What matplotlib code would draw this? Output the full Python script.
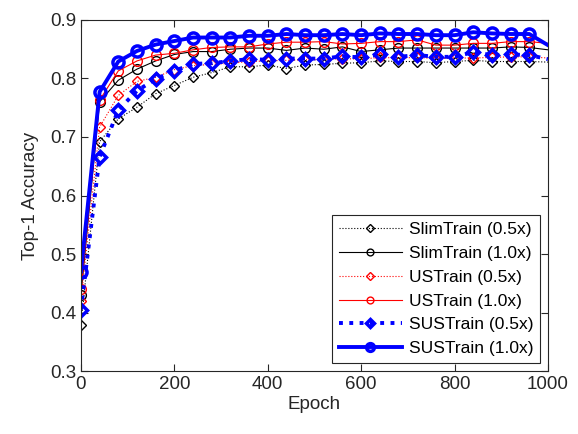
import matplotlib
matplotlib.use("Agg")
import matplotlib.pyplot as plt
import numpy as np

plt.rcParams['font.family'] = ['Liberation Sans', 'DejaVu Sans']

# epochs: every 40, plus final point at 1000
epochs = np.array(list(range(0, 1000, 40)) + [1000])

slim_05 = [0.378, 0.692, 0.731, 0.751, 0.774, 0.788, 0.802, 0.810, 0.820, 0.820,
           0.823, 0.817, 0.823, 0.824, 0.826, 0.827, 0.830, 0.829, 0.829, 0.827,
           0.829, 0.831, 0.829, 0.829, 0.829, 0.828]
slim_10 = [0.430, 0.760, 0.797, 0.816, 0.830, 0.841, 0.846, 0.846, 0.850, 0.852,
           0.852, 0.848, 0.852, 0.850, 0.854, 0.846, 0.849, 0.852, 0.852, 0.852,
           0.852, 0.852, 0.852, 0.854, 0.853, 0.849]
us_05 = [0.420, 0.717, 0.771, 0.795, 0.802, 0.815, 0.822, 0.824, 0.826, 0.829,
         0.830, 0.831, 0.832, 0.832, 0.834, 0.833, 0.836, 0.835, 0.836, 0.834,
         0.835, 0.835, 0.836, 0.837, 0.837, 0.835]
us_10 = [0.440, 0.763, 0.813, 0.830, 0.840, 0.843, 0.849, 0.853, 0.854, 0.854,
         0.859, 0.862, 0.862, 0.863, 0.859, 0.860, 0.863, 0.863, 0.866, 0.857,
         0.857, 0.860, 0.860, 0.863, 0.863, 0.860]
sus_05 = [0.405, 0.666, 0.746, 0.779, 0.799, 0.813, 0.825, 0.826, 0.830, 0.833,
          0.832, 0.834, 0.834, 0.834, 0.838, 0.836, 0.841, 0.837, 0.840, 0.837,
          0.837, 0.845, 0.840, 0.841, 0.840, 0.833]
sus_10 = [0.470, 0.777, 0.829, 0.847, 0.858, 0.864, 0.870, 0.870, 0.870, 0.873,
          0.873, 0.876, 0.874, 0.874, 0.876, 0.874, 0.877, 0.876, 0.876, 0.874,
          0.874, 0.879, 0.877, 0.876, 0.876, 0.857]

fig = plt.figure(figsize=(5.78, 4.34), dpi=100)
ax = fig.add_axes([0.140, 0.145, 0.808, 0.809])

mk = list(range(len(epochs) - 1))  # no marker on the last point

ax.plot(epochs, slim_05, color='k', linestyle=':', linewidth=0.8, marker='D', markersize=5.5,
        markerfacecolor='none', markevery=mk, label='SlimTrain (0.5x)')
ax.plot(epochs, slim_10, color='k', linestyle='-', linewidth=0.8, marker='o', markersize=7,
        markerfacecolor='none', markevery=mk, label='SlimTrain (1.0x)')
ax.plot(epochs, us_05, color='r', linestyle=':', linewidth=0.8, marker='D', markersize=5.5,
        markerfacecolor='none', markevery=mk, label='USTrain (0.5x)')
ax.plot(epochs, us_10, color='r', linestyle='-', linewidth=0.8, marker='o', markersize=7,
        markerfacecolor='none', markevery=mk, label='USTrain (1.0x)')
ax.plot(epochs, sus_05, color='b', linestyle=':', linewidth=2.8, marker='D', markersize=6.5,
        markerfacecolor='none', markeredgewidth=2.5, markevery=mk, label='SUSTrain (0.5x)')
ax.plot(epochs, sus_10, color='b', linestyle='-', linewidth=2.8, marker='o', markersize=8,
        markerfacecolor='none', markeredgewidth=2.5, markevery=mk, label='SUSTrain (1.0x)')

ax.set_xlim(0, 1000)
ax.set_ylim(0.3, 0.9)
ax.set_xticks([0, 200, 400, 600, 800, 1000])
ax.set_yticks([0.3, 0.4, 0.5, 0.6, 0.7, 0.8, 0.9])
ax.set_yticklabels(['0.3', '0.4', '0.5', '0.6', '0.7', '0.8', '0.9'])
ax.tick_params(direction='in', top=True, right=True, labelsize=13.5, length=5, colors='#262626')
for s in ax.spines.values():
    s.set_color('#262626')
    s.set_linewidth(0.8)
ax.set_xlabel('Epoch', fontsize=13.5, color='#262626', labelpad=2)
ax.set_ylabel('Top-1 Accuracy', fontsize=13.5, color='#262626', labelpad=8)

leg = ax.legend(loc='lower right', fontsize=12.5, fancybox=False, edgecolor='#262626',
                framealpha=1, handlelength=3.6, borderaxespad=0.45, labelspacing=0.5,
                markerscale=0.7, handletextpad=0.4, borderpad=0.4)
leg.get_frame().set_linewidth(0.8)

fig.savefig('out.png', dpi=100)
